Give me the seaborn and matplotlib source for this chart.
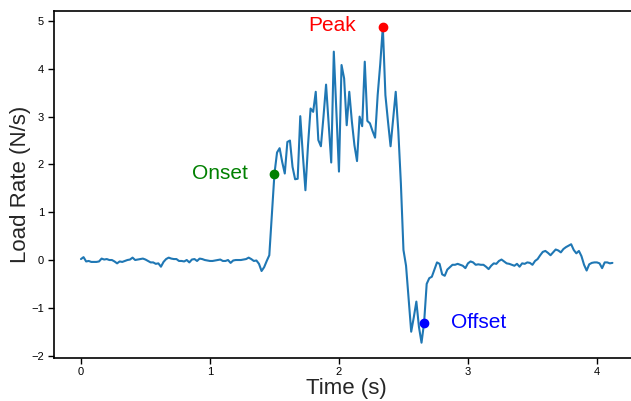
import numpy as np
import pandas as pd
import seaborn as sns
import matplotlib
matplotlib.use("Agg")
import matplotlib.pyplot as plt

# load rate samples, one every 0.02 s
dt = 0.02
load_rate = [
    # 0.00 - 1.38 s, quiet baseline
    0.02, 0.06, -0.03, -0.02, -0.04, -0.04, -0.04, -0.03, 0.03, 0.01,
    0.02, 0.00, 0.00, -0.03, -0.07, -0.03, -0.04, -0.02, 0.00, 0.01,
    0.05, 0.00, 0.01, 0.02, 0.03, 0.01, -0.02, -0.05, -0.05, -0.08,
    -0.07, -0.14, -0.04, 0.02, 0.05, 0.03, 0.02, 0.02, -0.02, -0.02,
    -0.03, 0.00, -0.05, 0.01, 0.02, -0.02, 0.03, 0.02, 0.00, -0.01,
    -0.02, -0.02, -0.01, 0.00, 0.01, -0.02, -0.02, 0.00, -0.06, -0.01,
    0.00, 0.00, 0.00, 0.01, 0.02, 0.05, 0.02, -0.02, -0.01, -0.08,
    # 1.40 - 2.66 s, loading burst
    -0.23, -0.15, -0.02, 0.10, 0.95, 1.81, 2.25, 2.34, 2.05, 1.81,
    2.47, 2.50, 1.95, 1.69, 1.70, 3.01, 2.20, 1.46, 2.40, 3.17,
    3.10, 3.52, 2.51, 2.38, 3.00, 3.67, 2.85, 2.04, 4.36, 3.10,
    1.85, 4.08, 3.80, 2.82, 3.52, 2.90, 2.40, 2.07, 3.00, 2.80,
    4.15, 2.91, 2.86, 2.70, 2.56, 3.45, 4.10, 4.88, 3.45, 2.90,
    2.38, 2.95, 3.52, 2.70, 1.60, 0.21, -0.12, -0.80, -1.50, -1.20,
    -0.87, -1.40, -1.73, -1.31,
    # 2.68 - 4.12 s, recovery
    -0.50, -0.38, -0.35, -0.20, -0.05, -0.08, -0.30, -0.33, -0.20, -0.15,
    -0.10, -0.10, -0.08, -0.10, -0.12, -0.17, -0.07, -0.03, -0.05, -0.10,
    -0.09, -0.10, -0.10, -0.14, -0.19, -0.12, -0.07, -0.08, -0.02, 0.01,
    -0.03, -0.07, -0.08, -0.10, -0.12, -0.08, -0.14, -0.07, -0.08, -0.05,
    -0.06, -0.10, -0.02, 0.02, 0.10, 0.17, 0.19, 0.15, 0.10, 0.16,
    0.22, 0.20, 0.16, 0.23, 0.27, 0.30, 0.33, 0.21, 0.14, 0.19,
    0.08, -0.10, -0.22, -0.09, -0.06, -0.05, -0.05, -0.07, -0.17, -0.05,
    -0.05, -0.07, -0.06,
]
time = np.round(np.arange(len(load_rate)) * dt, 2)

# event samples
onset_t, peak_t, offset_t = 1.50, 2.34, 2.66

df = pd.DataFrame({"time": time, "rate": load_rate})

sns.set_style("ticks")
plt.rcParams["font.family"] = ["Liberation Sans", "DejaVu Sans"]
plt.rcParams["axes.linewidth"] = 1.2
plt.rcParams["axes.edgecolor"] = "black"

fig = plt.figure(figsize=(6.31, 4.01), dpi=100)
ax = fig.add_axes([0.0862, 0.106, 0.9265, 0.8666])

sns.lineplot(data=df, x="time", y="rate", color="#1f77b4", linewidth=1.5, ax=ax)

events = [(onset_t, "green", "Onset", -0.42, 0.0),
          (peak_t, "red", "Peak", -0.39, 0.03),
          (offset_t, "blue", "Offset", 0.42, 0.0)]
for t, col, label, dx, dy in events:
    v = df.loc[np.isclose(df["time"], t), "rate"].iloc[0]
    ax.plot(t, v, "o", color=col, markersize=6, zorder=5)
    ax.text(t + dx, v + dy, label, color=col, fontsize=15, ha="center", va="center")

ax.set_xlabel("Time (s)", fontsize=16, labelpad=1)
ax.set_ylabel("Load Rate (N/s)", fontsize=16, labelpad=0)
ax.tick_params(axis="both", labelsize=8, length=4, width=1, colors="black")
ax.tick_params(axis="x", pad=2)
ax.set_xticks([0, 1, 2, 3, 4])
ax.set_yticks(range(-2, 6))

fig.savefig("out.png", dpi=100)
